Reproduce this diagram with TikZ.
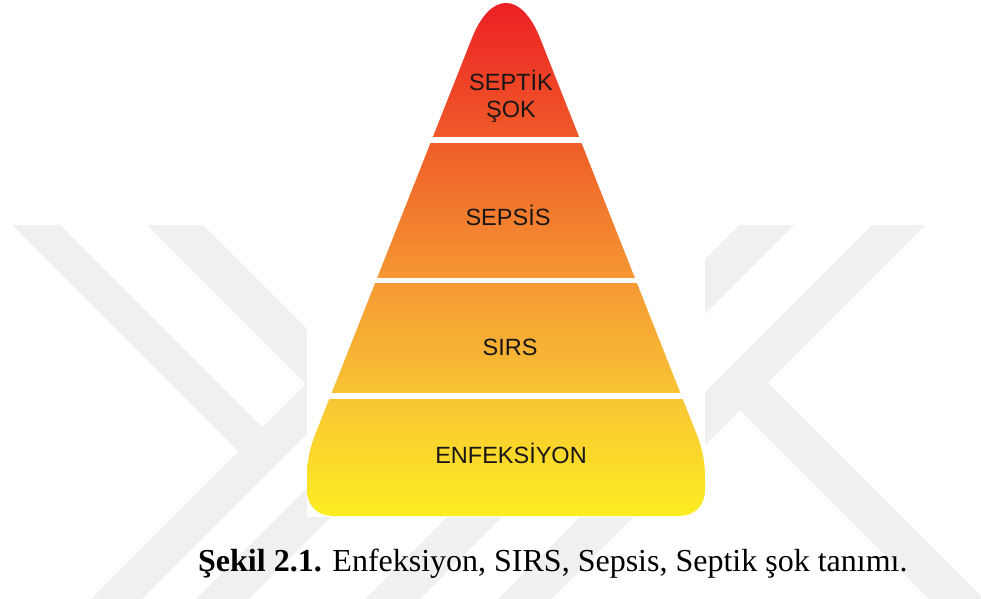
\documentclass[tikz,border=0pt]{standalone}
\usepackage{fontspec}
\setmainfont{Liberation Serif}
\newfontfamily\arialf{Liberation Sans}
\definecolor{wm}{RGB}{240,240,240}
\definecolor{lbltxt}{RGB}{25,22,22}
\definecolor{gzero}{RGB}{236,30,36}
\definecolor{gone}{RGB}{239,92,40}
\definecolor{gtwo}{RGB}{245,152,52}
\definecolor{gthree}{RGB}{249,196,52}
\definecolor{gfour}{RGB}{252,238,33}
\pgfdeclareverticalshading{pyrshade}{100bp}{color(0bp)=(gfour); color(25bp)=(gfour); color(36.7bp)=(gthree); color(47.92bp)=(gtwo); color(61.46bp)=(gone); color(75bp)=(gzero); color(100bp)=(gzero)}
\tikzset{
  wmark/.style={fill=wm, draw=none},
  lvl/.style={font=\arialf\fontsize{23.5bp}{28bp}\selectfont, text=lbltxt, inner sep=0pt, anchor=base},
  gapline/.style={draw=white, line width=5.5bp},
  capt/.style={font=\fontsize{32bp}{38bp}\selectfont, inner sep=0pt, anchor=base west}
}
\begin{document}
\begin{tikzpicture}[x=1bp,y=-1bp]
\useasboundingbox (0,0) rectangle (981,599);
\fill[white] (0,0) rectangle (981,599);
% watermark
\begin{scope}
\clip (0,0) rectangle (981,599);
\fill[wmark] (12,225) -- (60,225) -- (262.5,427.5) -- (238.5,451.5) -- cycle;
\fill[wmark] (90,600) -- (141,600) -- (441,300) -- (390,300) -- cycle;
\fill[wmark] (147,225) -- (203,225) -- (386.5,408.5) -- (358.5,436.5) -- cycle;
\fill[wmark] (195,600) -- (248,600) -- (548,300) -- (495,300) -- cycle;
\fill[wmark] (739,225) -- (794,225) -- (419,600) -- (364,600) -- cycle;
\fill[wmark] (872,225) -- (925,225) -- (550,600) -- (497,600) -- cycle;
\fill[wmark] (713.5,383.5) -- (767.5,382.5) -- (985,600) -- (930,600) -- cycle;
\end{scope}
% picture area
\fill[white] (307,0) rectangle (705,517);
% pyramid
\begin{scope}
\clip (333,516) .. controls (318,516) and (307,506) .. (307,490) -- (307,478)
  .. controls (307,460) and (310,447) .. (317,430) -- (472,38)
  .. controls (490.7,-8.7) and (521.3,-8.7) .. (540,38) -- (695,430)
  .. controls (702,447) and (705,460) .. (705,478) -- (705,490)
  .. controls (705,506) and (694,516) .. (679,516) -- cycle;
\shade[shading=pyrshade] (300,0) rectangle (712,517);
\end{scope}
\draw[gapline] (312,140) -- (700,140);
\draw[gapline] (312,280.5) -- (700,280.5);
\draw[gapline] (312,396) -- (700,396);
% labels
\node[lvl] (septik) at (511,91) {SEPTİK};
\node[lvl] (sok) at (511,117.5) {ŞOK};
\node[lvl] (sepsis) at (508,226) {SEPSİS};
\node[lvl] (sirs) at (510,355.5) {SIRS};
\node[lvl] (enf) at (511,463) {ENFEKSİYON};
% caption
\node[capt] (caption) at (198,571) {\textbf{Şekil 2.1.} Enfeksiyon, SIRS, Sepsis, Septik şok tanımı.};
\end{tikzpicture}
\end{document}
